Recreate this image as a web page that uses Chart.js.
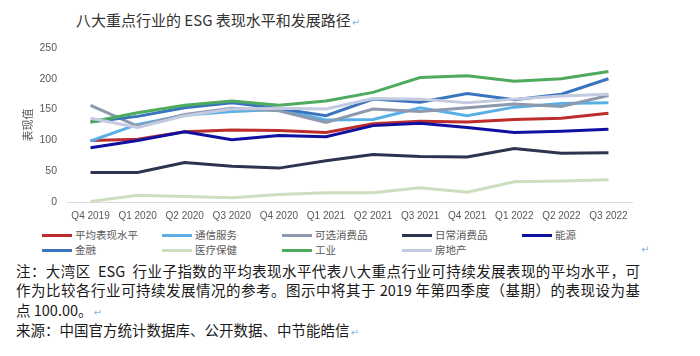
<!DOCTYPE html>
<html><head><meta charset="utf-8">
<script src="https://cdn.jsdelivr.net/npm/chart.js@4"></script>
<style>
body{margin:0;width:700px;height:356px;background:#fff;overflow:hidden;position:relative;font-family:"Noto Sans CJK SC","Noto Sans",sans-serif;}
#title{position:absolute;left:76px;top:9px;font-size:15px;line-height:22px;color:#333;white-space:nowrap}
.ret{color:#8db3e2;font-family:"DejaVu Sans",sans-serif;font-size:10px;margin-left:1px}
#c{position:absolute;left:0;top:0}
.li{position:absolute;display:flex;align-items:center;font-size:10.5px;line-height:14px;color:#595959;white-space:nowrap;height:14px}
.sw{display:inline-block;width:30px;height:3px;margin-right:3px}
.note{position:absolute;left:16px;font-size:14.5px;color:#1a1a1a;white-space:nowrap;line-height:20px}
.just{width:624px;text-align:justify;text-align-last:justify;white-space:normal}
</style></head>
<body>
<div id="title">八大重点行业的 ESG 表现水平和发展路径<span class="ret">↵</span></div>
<canvas id="c" width="700" height="227"></canvas>
<div id="legend"></div>
<div class="note just" style="top:261px">注：大湾区&nbsp; ESG&nbsp; 行业子指数的平均表现水平代表八大重点行业可持续发展表现的平均水平，可</div>
<div class="note just" style="top:280px">作为比较各行业可持续发展情况的参考。图示中将其于 2019 年第四季度（基期）的表现设为基</div>
<div class="note" style="top:300px">点 100.00。<span class="ret">↵</span></div>
<div class="note" style="top:320px">来源：中国官方统计数据库、公开数据、中节能皓信<span class="ret">↵</span></div>
<div class="li" style="left:640px;top:243px"><span class="ret">↵</span></div>
<script>
const quarters = ['Q4 2019','Q1 2020','Q2 2020','Q3 2020','Q4 2020','Q1 2021','Q2 2021','Q3 2021','Q4 2021','Q1 2022','Q2 2022','Q3 2022'];
const seriesNames = ['平均表现水平','通信服务','可选消费品','日常消费品','能源','金融','医疗保健','工业','房地产'];
const avgLevel    = [100, 102, 114, 117, 116, 113, 127, 131, 130, 134, 136, 144];
const telecom     = [99, 126, 141, 147, 150, 133, 134, 153, 140, 154, 160, 161];
const discretion  = [157, 123, 142, 152, 148, 129, 151, 147, 153, 159, 155, 173];
const staples     = [48, 48, 64, 58, 55, 67, 77, 74, 73, 87, 79, 80];
const energy      = [88, 100, 114, 101, 108, 106, 124, 128, 121, 113, 115, 118];
const finance     = [130, 139, 153, 161, 152, 140, 167, 162, 176, 166, 175, 200];
const healthcare  = [1, 11, 9, 7, 12, 15, 15, 23, 16, 33, 34, 36];
const industry    = [130, 145, 157, 164, 157, 164, 178, 202, 205, 196, 200, 212];
const realEstate  = [136, 121, 140, 151, 152, 151, 168, 167, 161, 167, 172, 175];
const yTicks = [0, 50, 100, 150, 200, 250];

const seriesValues = [avgLevel, telecom, discretion, staples, energy, finance, healthcare, industry, realEstate];
const colors = ['#BE2D2D','#5AB0E6','#8D9AAE','#2E3350','#1010A0','#3A74BE','#CDDDBF','#4EAA5C','#C4CADF'];

const datasets = seriesNames.map((n,i)=>({
  label:n, data:seriesValues[i], borderColor:colors[i], backgroundColor:colors[i],
  borderWidth:3, pointRadius:0, tension:0, fill:false, order: seriesNames.length - i
}));

new Chart(document.getElementById('c'), {
  type:'line',
  data:{labels:quarters, datasets},
  options:{
    responsive:false, animation:false, devicePixelRatio:1,
    layout:{padding:{top:48,right:68,left:0,bottom:0}},
    plugins:{legend:{display:false}, tooltip:{enabled:false}},
    scales:{
      x:{offset:true, grid:{display:false, drawTicks:false}, border:{color:'#d9d9d9', width:1},
         ticks:{color:'#595959', font:{size:10, family:'"Liberation Sans", sans-serif'}, padding:8, maxRotation:0, autoSkip:false},
         afterFit(s){ s.height = 25; }},
      y:{min:yTicks[0], max:yTicks[yTicks.length-1],
         afterBuildTicks(s){ s.ticks = yTicks.map(v=>({value:v})); },
         ticks:{color:'#595959', font:{size:10.5, family:'"Liberation Sans", sans-serif'}, padding:10},
         grid:{display:false, drawTicks:false}, border:{display:false},
         title:{display:true, text:'表现值', color:'#595959', font:{size:11, family:'"Noto Sans CJK SC", sans-serif'}, padding:{top:21,bottom:0}},
         afterFit(s){ s.width = 67; }}
    }
  }
});

const leg = document.getElementById('legend');
seriesNames.forEach((n,i)=>{
  const col = i % 5, row = Math.floor(i/5);
  const d = document.createElement('div');
  d.className='li';
  d.style.left = (42 + col*120) + 'px';
  d.style.top = (228 + row*15) + 'px';
  d.innerHTML = '<span class="sw" style="background:'+colors[i]+'"></span>'+n;
  leg.appendChild(d);
});
</script>
</body></html>
